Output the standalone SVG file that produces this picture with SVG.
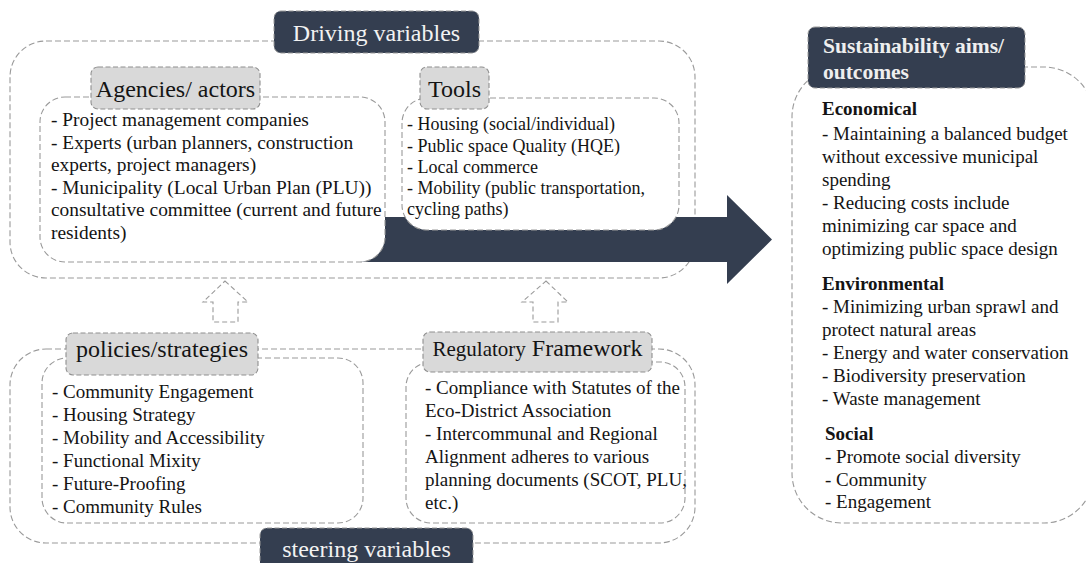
<svg xmlns="http://www.w3.org/2000/svg" width="1086" height="563" viewBox="0 0 1086 563">
  <style>
    .frame { fill: none; stroke: #9a9a9a; stroke-width: 1.1; stroke-dasharray: 6 3; }
    .card { fill: #ffffff; stroke: #9a9a9a; stroke-width: 1.1; stroke-dasharray: 6 3; }
    .tag { fill: #d9d9d9; stroke: #8f8f8f; stroke-width: 1.1; stroke-dasharray: 5 2.5; }
    .head { fill: #343e50; stroke: #9a9a9a; stroke-width: 1; stroke-dasharray: 5 2.5; }
    .flow { fill: #343e50; stroke: none; }
    .hollow { fill: none; stroke: #9a9a9a; stroke-width: 1.1; stroke-dasharray: 5 3; }
    text { font-family: "Liberation Serif", "Times New Roman", serif; fill: #141414; }
    .body { font-size: 19px; }
    .wide { font-size: 19.4px; }
    .small { font-size: 18px; }
    .tagtxt { font-size: 24px; text-anchor: middle; }
    .headtxt { font-size: 24px; text-anchor: middle; fill: #f2f2f2; }
    .bold { font-weight: bold; }
    .headbold { font-size: 21.5px; font-weight: bold; fill: #eeeeee; }
  </style>

  <!-- Driving variables frame -->
  <g id="driving-frame">
    <rect class="frame" x="10" y="41" width="685" height="237" rx="36"/>
  </g>

  <!-- Steering variables frame -->
  <g id="steering-frame">
    <rect class="frame" x="10" y="349" width="685" height="194" rx="36"/>
  </g>

  <!-- Sustainability frame -->
  <g id="outcomes-frame">
    <rect class="frame" x="792" y="67" width="302" height="456" rx="50"/>
  </g>

  <!-- Connectors -->
  <g id="connectors">
    <polygon class="flow" points="300,217 727,217 727,195 772,239.5 727,284 727,262 300,262"/>
    <polygon class="hollow" points="225,281 248,302 238,302 238,322 213,322 213,302 203,302"/>
    <polygon class="hollow" points="546,281 568,302 558,302 558,322 533,322 533,302 522,302"/>
  </g>

  <!-- Agencies / actors -->
  <g id="agencies">
    <rect class="card" x="40" y="97" width="345" height="165" rx="25"/>
    <rect class="tag" x="91" y="67" width="169" height="42" rx="7"/>
    <text class="tagtxt" x="175.5" y="97">Agencies/ actors</text>
    <text class="wide" x="51" y="126">- Project management companies</text>
    <text class="wide" x="51" y="148.5">- Experts (urban planners, construction</text>
    <text class="wide" x="51" y="171">experts, project managers)</text>
    <text class="wide" x="51" y="193.5">- Municipality (Local Urban Plan (PLU))</text>
    <text class="wide" x="51" y="216">consultative committee (current and future</text>
    <text class="wide" x="51" y="238.5">residents)</text>
  </g>

  <!-- Tools -->
  <g id="tools">
    <rect class="card" x="402" y="98" width="277" height="132" rx="25"/>
    <rect class="tag" x="420" y="67" width="69" height="42" rx="7"/>
    <text class="tagtxt" x="454.5" y="97">Tools</text>
    <text class="small" x="407" y="130">- Housing (social/individual)</text>
    <text class="small" x="407" y="151.5">- Public space Quality (HQE)</text>
    <text class="small" x="407" y="173">- Local commerce</text>
    <text class="small" x="407" y="194">- Mobility (public transportation,</text>
    <text class="small" x="407" y="215">cycling paths)</text>
  </g>

  <!-- Driving variables heading -->
  <g id="driving-label">
    <rect class="head" x="274" y="11" width="205" height="42" rx="7"/>
    <text class="headtxt" x="376.5" y="41">Driving variables</text>
  </g>

  <!-- Policies / strategies -->
  <g id="policies">
    <rect class="card" x="42" y="358" width="321" height="165" rx="25"/>
    <rect class="tag" x="66" y="333" width="192" height="42" rx="7"/>
    <text class="tagtxt" x="162" y="357">policies/strategies</text>
    <text class="body" x="52" y="398">- Community Engagement</text>
    <text class="body" x="52" y="421">- Housing Strategy</text>
    <text class="body" x="52" y="444">- Mobility and Accessibility</text>
    <text class="body" x="52" y="467">- Functional Mixity</text>
    <text class="body" x="52" y="490">- Future-Proofing</text>
    <text class="body" x="52" y="513">- Community Rules</text>
  </g>

  <!-- Regulatory framework -->
  <g id="regulatory">
    <rect class="card" x="406" y="362" width="279" height="161" rx="25"/>
    <rect class="tag" x="423" y="332" width="229" height="40" rx="7"/>
    <text class="tagtxt" x="537.5" y="356"><tspan font-size="21">Regulatory</tspan> Framework</text>
    <text class="body" x="425" y="394">- Compliance with Statutes of the</text>
    <text class="body" x="425" y="417">Eco-District Association</text>
    <text class="body" x="425" y="440">- Intercommunal and Regional</text>
    <text class="body" x="425" y="463">Alignment adheres to various</text>
    <text class="body" x="425" y="486">planning documents (SCOT, PLU,</text>
    <text class="body" x="425" y="509">etc.)</text>
  </g>

  <!-- Steering variables heading -->
  <g id="steering-label">
    <rect class="head" x="260" y="528" width="213" height="44" rx="7"/>
    <text class="headtxt" x="366.5" y="557">steering variables</text>
  </g>

  <!-- Sustainability aims / outcomes -->
  <g id="outcomes">
    <rect class="head" x="808" y="27" width="217" height="61" rx="7"/>
    <text class="headbold" x="823" y="53">Sustainability aims/</text>
    <text class="headbold" x="823" y="79">outcomes</text>
    <text class="body bold" x="822" y="115">Economical</text>
    <text class="body" x="822" y="140">- Maintaining a balanced budget</text>
    <text class="body" x="822" y="163">without excessive municipal</text>
    <text class="body" x="822" y="186">spending</text>
    <text class="body" x="822" y="209">- Reducing costs include</text>
    <text class="body" x="822" y="232">minimizing car space and</text>
    <text class="body" x="822" y="255">optimizing public space design</text>
    <text class="body bold" x="822" y="290">Environmental</text>
    <text class="body" x="822" y="313">- Minimizing urban sprawl and</text>
    <text class="body" x="822" y="335.5">protect natural areas</text>
    <text class="body" x="822" y="358.5">- Energy and water conservation</text>
    <text class="body" x="822" y="382">- Biodiversity preservation</text>
    <text class="body" x="822" y="405">- Waste management</text>
    <text class="body bold" x="825" y="440">Social</text>
    <text class="body" x="825" y="463">- Promote social diversity</text>
    <text class="body" x="825" y="485.5">- Community</text>
    <text class="body" x="825" y="508">- Engagement</text>
  </g>
</svg>
